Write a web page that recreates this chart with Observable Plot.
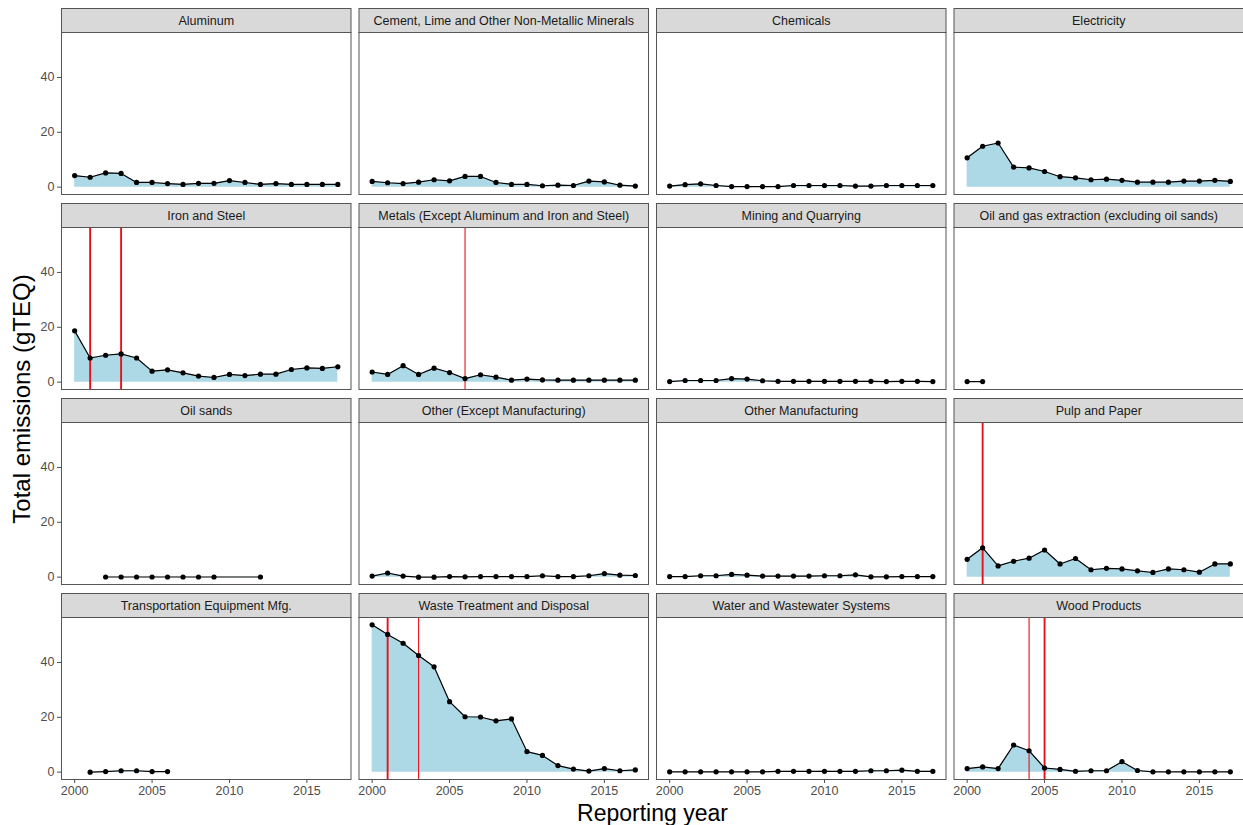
<!DOCTYPE html>
<html>
<head>
<meta charset="utf-8">
<script src="https://cdn.jsdelivr.net/npm/d3@7"></script>
<script src="https://cdn.jsdelivr.net/npm/@observablehq/plot@0.6"></script>
<style>
  html, body { margin: 0; padding: 0; background: #ffffff; }
  #chart svg { display: block; }
</style>
</head>
<body>
<div id="chart"></div>
<script>
// ---- Data ----
const sectors = [
  "Aluminum",
  "Cement, Lime and Other Non-Metallic Minerals",
  "Chemicals",
  "Electricity",
  "Iron and Steel",
  "Metals (Except Aluminum and Iron and Steel)",
  "Mining and Quarrying",
  "Oil and gas extraction (excluding oil sands)",
  "Oil sands",
  "Other (Except Manufacturing)",
  "Other Manufacturing",
  "Pulp and Paper",
  "Transportation Equipment Mfg.",
  "Waste Treatment and Disposal",
  "Water and Wastewater Systems",
  "Wood Products"
];

const allYears = [2000, 2001, 2002, 2003, 2004, 2005, 2006, 2007, 2008, 2009,
                  2010, 2011, 2012, 2013, 2014, 2015, 2016, 2017];
const oilGasYears = [2000, 2001];
const oilSandsYears = [2002, 2003, 2004, 2005, 2006, 2007, 2008, 2009, 2012];
const transportYears = [2001, 2002, 2003, 2004, 2005, 2006];

const aluminum    = [4.2, 3.6, 5.2, 5.0, 1.7, 1.7, 1.3, 1.0, 1.4, 1.4, 2.4, 1.7, 1.0, 1.3, 1.0, 1.0, 1.0, 1.0];
const cement      = [2.1, 1.6, 1.3, 1.8, 2.7, 2.3, 3.9, 3.9, 1.7, 1.0, 1.0, 0.5, 0.7, 0.6, 2.2, 1.9, 0.7, 0.4];
const chemicals   = [0.4, 0.9, 1.2, 0.6, 0.2, 0.2, 0.2, 0.2, 0.6, 0.6, 0.6, 0.6, 0.4, 0.4, 0.6, 0.6, 0.6, 0.6];
const electricity = [10.7, 14.9, 16.1, 7.3, 7.0, 5.7, 3.8, 3.4, 2.7, 2.9, 2.5, 1.8, 1.8, 1.8, 2.2, 2.2, 2.5, 2.1];
const ironSteel   = [18.7, 8.8, 9.8, 10.3, 8.8, 4.0, 4.5, 3.4, 2.2, 1.7, 2.8, 2.4, 2.9, 2.9, 4.6, 5.2, 5.0, 5.6];
const metals      = [3.7, 2.8, 6.0, 2.8, 5.1, 3.5, 1.3, 2.7, 1.8, 0.7, 1.1, 0.8, 0.7, 0.7, 0.7, 0.7, 0.7, 0.7];
const mining      = [0.2, 0.6, 0.6, 0.6, 1.3, 1.1, 0.5, 0.3, 0.3, 0.3, 0.3, 0.3, 0.3, 0.3, 0.2, 0.3, 0.3, 0.2];
const oilGas      = [0.2, 0.2];
const oilSands    = [0.05, 0.05, 0.05, 0.05, 0.05, 0.05, 0.05, 0.05, 0.05];
const otherExcept = [0.4, 1.5, 0.4, 0.0, 0.0, 0.2, 0.1, 0.2, 0.2, 0.2, 0.2, 0.5, 0.2, 0.2, 0.5, 1.3, 0.7, 0.6];
const otherMfg    = [0.2, 0.2, 0.5, 0.5, 1.0, 0.7, 0.4, 0.4, 0.4, 0.4, 0.5, 0.5, 0.85, 0.1, 0.1, 0.2, 0.2, 0.2];
const pulpPaper   = [6.5, 10.7, 4.1, 5.8, 6.9, 9.9, 4.8, 6.8, 2.7, 3.2, 3.0, 2.3, 1.7, 3.0, 2.7, 1.8, 4.8, 4.8];
const transport   = [0.0, 0.2, 0.5, 0.5, 0.2, 0.2];
const waste       = [53.7, 50.2, 47.0, 42.5, 38.4, 25.7, 20.2, 20.1, 18.7, 19.4, 7.5, 6.1, 2.4, 1.1, 0.4, 1.3, 0.5, 0.8];
const water       = [0.1, 0.1, 0.1, 0.1, 0.1, 0.1, 0.1, 0.3, 0.3, 0.3, 0.3, 0.3, 0.3, 0.5, 0.5, 0.7, 0.3, 0.3];
const wood        = [1.3, 1.9, 1.3, 9.9, 7.8, 1.5, 1.0, 0.3, 0.5, 0.5, 3.8, 0.6, 0.1, 0.1, 0.1, 0.1, 0.1, 0.1];

// red reference lines (one entry per event; repeated years overlap)
const eventSectors = [
  "Iron and Steel", "Iron and Steel", "Iron and Steel", "Iron and Steel",
  "Metals (Except Aluminum and Iron and Steel)",
  "Pulp and Paper", "Pulp and Paper",
  "Waste Treatment and Disposal", "Waste Treatment and Disposal", "Waste Treatment and Disposal",
  "Wood Products", "Wood Products", "Wood Products"
];
const eventYears = [2001, 2001, 2003, 2003, 2006, 2001, 2001, 2001, 2001, 2003, 2004, 2005, 2005];

const xTicks = [2000, 2005, 2010, 2015];
const yTicks = [0, 20, 40];

// ---- Build tables ----
const seriesList = [
  [allYears, aluminum], [allYears, cement], [allYears, chemicals], [allYears, electricity],
  [allYears, ironSteel], [allYears, metals], [allYears, mining], [oilGasYears, oilGas],
  [oilSandsYears, oilSands], [allYears, otherExcept], [allYears, otherMfg], [allYears, pulpPaper],
  [transportYears, transport], [allYears, waste], [allYears, water], [allYears, wood]
];
const NCOL = 4;
const cellOf = (s) => { const i = sectors.indexOf(s); return {col: i % NCOL, row: Math.floor(i / NCOL)}; };

const rows = [];
sectors.forEach((s, i) => {
  const [yrs, vals] = seriesList[i];
  yrs.forEach((yr, j) => rows.push({sector: s, year: yr, value: vals[j], ...cellOf(s)}));
});
const strips = sectors.map(s => ({sector: s, ...cellOf(s)}));

const eventMap = d3.rollup(eventSectors.map((s, i) => ({s, y: eventYears[i]})), v => v.length, d => d.s, d => d.y);
const events = [];
for (const [s, m] of eventMap) for (const [y, n] of m) events.push({sector: s, year: y, n, ...cellOf(s)});

const yMax = d3.max(rows, d => d.value);
const yMin = 0;
const yPad = (yMax - yMin) * 0.05;
const xMin = d3.min(allYears), xMax = d3.max(allYears);
const xPad = (xMax - xMin) * 0.05;

// ---- Layout constants ----
const W = 1243, H = 825;
const STRIP = 24;
const CELL_H = 186;
const FONT = "'Liberation Sans', Arial, Helvetica, sans-serif";
const BORDER = "#555555";

const chart = Plot.plot({
  width: W,
  height: H,
  marginLeft: 61,
  marginRight: 0,
  marginTop: 8,
  marginBottom: 46,
  style: {fontFamily: FONT, fontSize: "12.5px", background: "#ffffff", color: "#1a1a1a"},
  fx: {domain: [0, 1, 2, 3], paddingInner: 8 / 297.5, paddingOuter: 0, round: false, axis: null},
  fy: {domain: [0, 1, 2, 3], paddingInner: 9 / 195, paddingOuter: 0, round: false, axis: null},
  x: {domain: [xMin - xPad, xMax + xPad], label: null},
  y: {domain: [yMin - yPad, yMax + yPad], insetTop: STRIP, label: null},
  marks: [
    // strip background
    Plot.frame({fill: "#d9d9d9", stroke: BORDER, strokeWidth: 1, insetBottom: CELL_H - STRIP}),
    Plot.text(strips, {fx: "col", fy: "row", text: "sector", frameAnchor: "top", lineAnchor: "middle",
                       dy: STRIP / 2, fontSize: 12.5, fill: "#1a1a1a"}),
    // data
    Plot.areaY(rows, {fx: "col", fy: "row", x: "year", y: "value", z: "sector", fill: "#add8e6"}),
    Plot.ruleX(events, {fx: "col", fy: "row", x: "year", stroke: "#e8101a",
                        strokeWidth: d => d.n > 1 ? 1.9 : 1.1, insetTop: STRIP}),
    Plot.lineY(rows, {fx: "col", fy: "row", x: "year", y: "value", z: "sector",
                      stroke: "#000000", strokeWidth: 1.2}),
    Plot.dot(rows, {fx: "col", fy: "row", x: "year", y: "value", r: 2.6, fill: "#000000", stroke: null}),
    // panel border
    Plot.frame({stroke: BORDER, strokeWidth: 1, insetTop: STRIP}),
    // axes
    Plot.axisX({ticks: xTicks, tickFormat: "d", facetAnchor: "bottom", tickSize: 4, tickPadding: 3,
                fontSize: 12.5, color: "#4d4d4d", label: null}),
    Plot.axisY({ticks: yTicks, facetAnchor: "left", tickSize: 4, tickPadding: 3,
                fontSize: 12.5, color: "#4d4d4d", label: null}),
    // axis titles
    Plot.text(["Reporting year"], {facet: "super", text: d => d, frameAnchor: "bottom",
                                   lineAnchor: "bottom", dy: 41, fontSize: 23, fill: "#000000"}),
    Plot.text(["Total emissions (gTEQ)"], {facet: "super", text: d => d, frameAnchor: "left",
                                   textAnchor: "middle", lineAnchor: "middle",
                                   rotate: -90, dx: -39, dy: 5, fontSize: 24, fill: "#000000"})
  ]
});

document.getElementById("chart").appendChild(chart);
</script>
</body>
</html>
